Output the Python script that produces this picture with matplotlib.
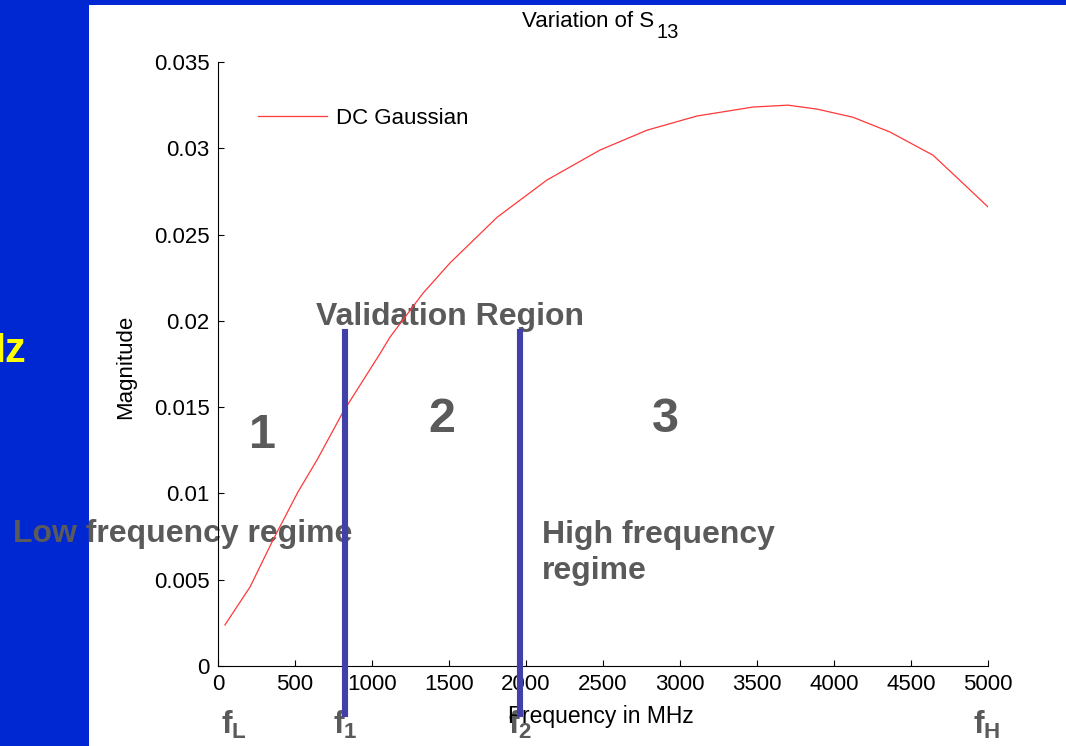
import matplotlib
matplotlib.use('Agg')
import matplotlib.pyplot as plt
from matplotlib.patches import Rectangle

# values
freq_mhz = [45, 208, 357, 519, 643, 812, 1052, 1117, 1331, 1506, 1812, 2136,
            2481, 2786, 3110, 3474, 3701, 3890, 4123, 4364, 4643, 4864, 5000]
magnitude = [0.00238, 0.00458, 0.00730, 0.01008, 0.01194, 0.01472, 0.0181,
             0.01906, 0.0216, 0.02335, 0.0260, 0.02816, 0.0299, 0.03105,
             0.03187, 0.03239, 0.0325, 0.03227, 0.0318, 0.03094, 0.0296,
             0.02775, 0.0266]
boundaries = [825, 1961]          # f1, f2 in MHz
boundary_span = [-0.00278, 0.01935]
xticks = [0, 500, 1000, 1500, 2000, 2500, 3000, 3500, 4000, 4500, 5000]
yticks = [0, 0.005, 0.01, 0.015, 0.02, 0.025, 0.03, 0.035]
ytick_labels = ['0', '0.005', '0.01', '0.015', '0.02', '0.025', '0.03', '0.035']

plt.rcParams['font.family'] = ['Liberation Sans', 'DejaVu Sans']
plt.rcParams['mathtext.fontset'] = 'custom'
plt.rcParams['mathtext.rm'] = 'Liberation Sans'
plt.rcParams['mathtext.bf'] = 'Liberation Sans:bold'
plt.rcParams['mathtext.it'] = 'Liberation Sans:italic'

W, H = 1066, 746
blue = '#0028D2'
grey = '#5A5A5A'
line_blue = '#4040A8'

fig = plt.figure(figsize=(W / 100, H / 100), dpi=100, facecolor=blue)
fig.patches.append(Rectangle((89 / W, 0), 1 - 89 / W, 1 - 5 / H,
                             transform=fig.transFigure, facecolor='white',
                             edgecolor='none', zorder=-1))

ax = fig.add_axes([218 / W, 1 - 666 / H, 770 / W, 604 / H])
ax.set_facecolor('none')

ax.plot(freq_mhz, magnitude, color='#FF3838', lw=0.9, label='DC Gaussian', zorder=2)
for f in boundaries:
    ax.plot([f, f], boundary_span, color=line_blue, lw=4.4, clip_on=False, zorder=3)

ax.set_xlim(0, 5000)
ax.set_ylim(0, 0.035)
ax.set_xticks(xticks)
ax.set_yticks(yticks)
ax.set_yticklabels(ytick_labels)
for s in ['top', 'right']:
    ax.spines[s].set_visible(False)
for s in ['left', 'bottom']:
    ax.spines[s].set_linewidth(0.8)
ax.tick_params(direction='in', length=4, width=0.8, labelsize=16, pad=6)

ax.set_xlabel('Frequency in MHz', fontsize=16.5)
ax.xaxis.set_label_coords(0.497, -0.064)
ax.set_ylabel('Magnitude', fontsize=16)
ax.yaxis.set_label_coords(-0.106, 0.495)

ax.legend(loc='center left', bbox_to_anchor=(0.052, 0.907), frameon=False,
          fontsize=16, handlelength=3.1, handletextpad=0.4, borderpad=0,
          borderaxespad=0)


def label(x, y, s, size=23, ha='left', color=grey, weight='bold'):
    ax.text(x / W, 1 - y / H, s, transform=fig.transFigure, ha=ha,
            va='baseline', fontsize=size, color=color, fontweight=weight,
            zorder=1)


# title with a MATLAB-style large subscript
label(654, 27, 'Variation of S', size=16, ha='right', color='black', weight='normal')
label(657, 38, '13', size=14.5, color='black', weight='normal')

label(450, 325, 'Validation Region', ha='center')
label(263, 448, '1', size=35, ha='center')
label(442, 432, '2', size=35, ha='center')
label(665, 432, '3', size=35, ha='center')
label(13, 542, 'Low frequency regime')
label(542, 543, 'High frequency')
label(542, 579, 'regime')
label(221, 734, r'$\mathbf{f}_\mathbf{L}$')
label(333, 734, r'$\mathbf{f}_\mathbf{1}$')
label(508, 734, r'$\mathbf{f}_\mathbf{2}$')
label(973, 734, r'$\mathbf{f}_\mathbf{H}$')
label(26, 362, 'Hz', size=30, ha='right', color='#FFFF00')

fig.savefig('out.png', dpi=100, facecolor=blue)
